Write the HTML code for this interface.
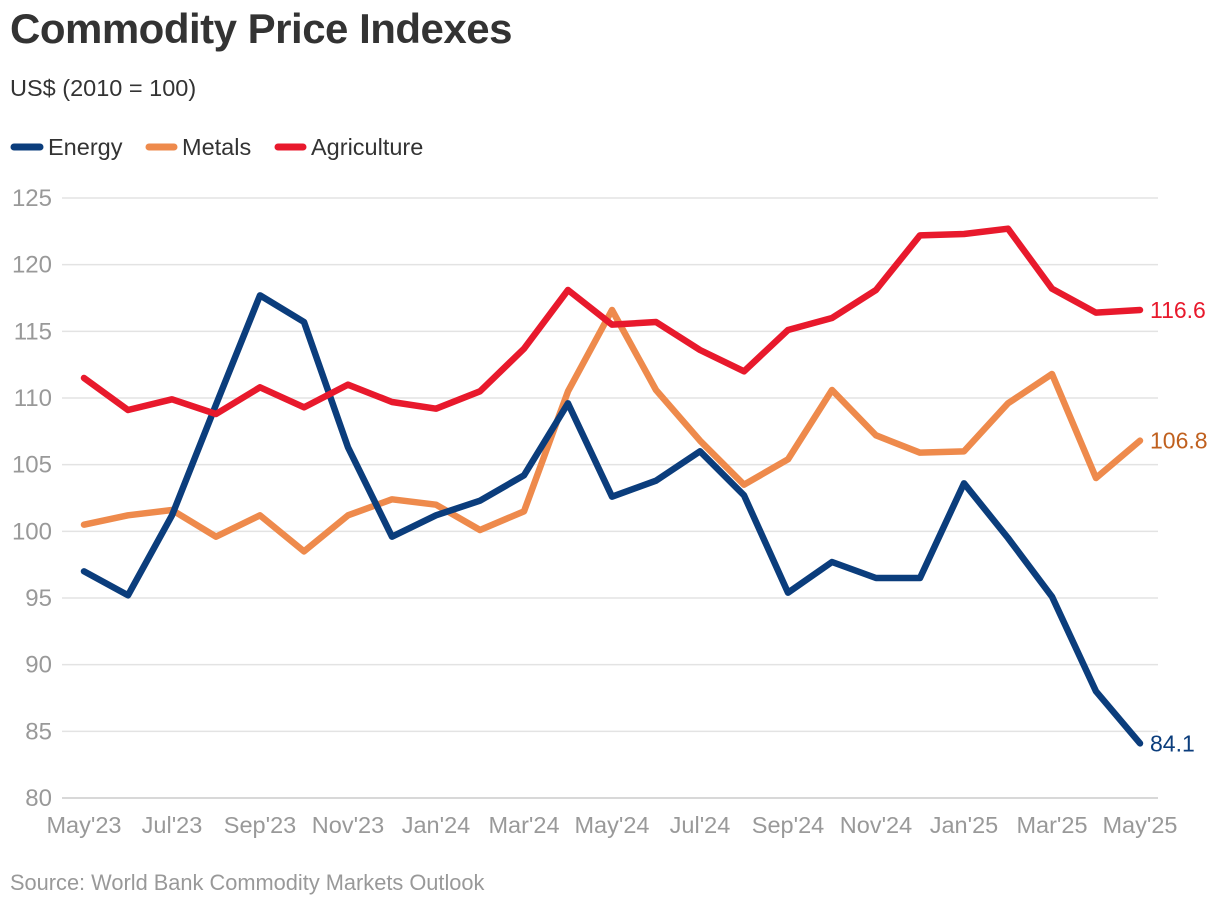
<!DOCTYPE html>
<html><head><meta charset="utf-8"><style>
body{margin:0;background:#fff;font-family:"Liberation Sans",sans-serif;}
svg text{font-family:"Liberation Sans",sans-serif;}
</style></head><body>
<svg id="chart" width="1220" height="906" viewBox="0 0 1220 906">
<text x="10" y="43" font-size="42" font-weight="bold" fill="#333" letter-spacing="-0.5">Commodity Price Indexes</text>
<text x="10" y="96" font-size="23.5" fill="#333">US$ (2010 = 100)</text>
<g>
<g><line x1="14" y1="147" x2="40" y2="147" stroke="#0b3d7c" stroke-width="7" stroke-linecap="round"/><text x="48" y="155" font-size="23.5" fill="#333">Energy</text></g>
<g><line x1="149" y1="147" x2="174" y2="147" stroke="#ee8a4c" stroke-width="7" stroke-linecap="round"/><text x="182" y="155" font-size="23.5" fill="#333">Metals</text></g>
<g><line x1="278" y1="147" x2="303" y2="147" stroke="#e8192c" stroke-width="7" stroke-linecap="round"/><text x="311" y="155" font-size="23.5" fill="#333">Agriculture</text></g>
</g>
<g id="grid"></g><g id="xaxis"></g><g id="series"></g>
<text x="10" y="890" font-size="21.8" fill="#999">Source: World Bank Commodity Markets Outlook</text>
</svg>
<script>
const months = ["May'23","Jun'23","Jul'23","Aug'23","Sep'23","Oct'23","Nov'23","Dec'23","Jan'24","Feb'24","Mar'24","Apr'24","May'24","Jun'24","Jul'24","Aug'24","Sep'24","Oct'24","Nov'24","Dec'24","Jan'25","Feb'25","Mar'25","Apr'25","May'25"];
const energy = [97.0,95.2,101.2,109.5,117.7,115.7,106.3,99.6,101.2,102.3,104.2,109.6,102.6,103.8,106.0,102.7,95.4,97.7,96.5,96.5,103.6,99.5,95.1,88.0,84.1];
const metals = [100.5,101.2,101.6,99.6,101.2,98.5,101.2,102.4,102.0,100.1,101.5,110.5,116.6,110.6,106.8,103.5,105.4,110.6,107.2,105.9,106.0,109.6,111.8,104.0,106.8];
const agriculture = [111.5,109.1,109.9,108.8,110.8,109.3,111.0,109.7,109.2,110.5,113.7,118.1,115.5,115.7,113.6,112.0,115.1,116.0,118.1,122.2,122.3,122.7,118.2,116.4,116.6];
const yTicks = [80,85,90,95,100,105,110,115,120,125];
const NS="http://www.w3.org/2000/svg";
const x = i => 84 + i*(1140-84)/(months.length-1);
const y = v => 798 - (v-80)*(600/45);
function mk(t,a,p){const e=document.createElementNS(NS,t);for(const k in a)e.setAttribute(k,a[k]);p.appendChild(e);return e;}
const grid=document.getElementById('grid');
yTicks.forEach(v=>{
  const l=mk('line',{x1:62,x2:1158,y1:y(v),y2:y(v),stroke:v===80?'#ccc':'#e3e3e3','stroke-width':1.5},grid);
  
  
  const t=mk('text',{x:52,y:y(v)+8,'font-size':24,fill:'#999','text-anchor':'end'},grid);
  t.textContent=v;
  
  
});
const xa=document.getElementById('xaxis');
months.forEach((m,i)=>{ if(i%2) return;
  const t=mk('text',{x:x(i),y:833,'font-size':23.5,fill:'#999','text-anchor':'middle'},xa);
  t.textContent=m;
  
  
});
const ser=document.getElementById('series');
[[metals,'#ee8a4c','#c0601e','metals'],[energy,'#0b3d7c','#0b3d7c','energy'],[agriculture,'#e8192c','#e8192c','agriculture']].forEach(([d,c,lc,n])=>{
  const p=mk('polyline',{points:d.map((v,i)=>x(i)+','+y(v)).join(' '),fill:'none',stroke:c,'stroke-width':6.5,'stroke-linejoin':'round','stroke-linecap':'round'},ser);
  
  
  const last=d.length-1;
  const t=mk('text',{x:x(last)+10,y:y(d[last])+8,'font-size':23,fill:lc},ser);
  t.textContent=d[last].toFixed(1);
  
  
});
</script>
</body></html>
